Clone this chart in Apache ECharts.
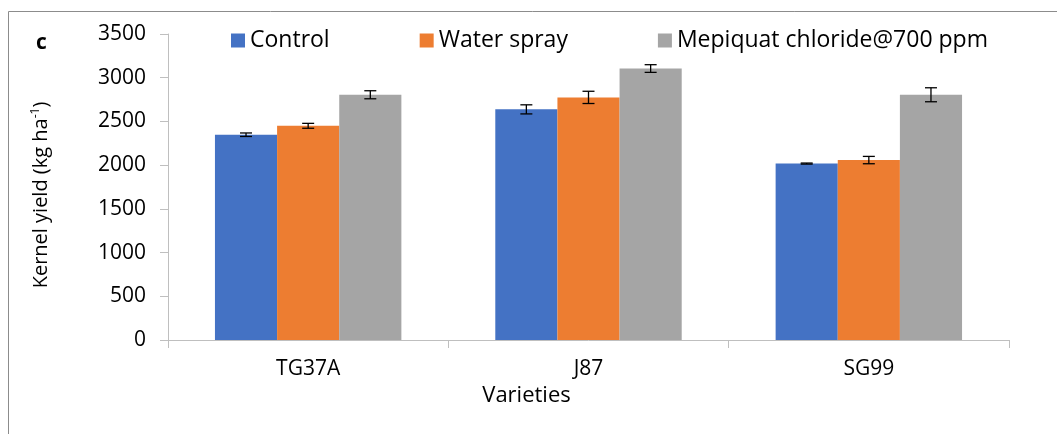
<!DOCTYPE html>
<html>
<head>
<meta charset="utf-8">
<script src="https://cdn.jsdelivr.net/npm/echarts@6/dist/echarts.min.js"></script>
<style>
  html, body { margin: 0; padding: 0; background: #fff; }
  #main { width: 1057px; height: 434px; }
</style>
</head>
<body>
<div id="main"></div>
<script>
var varieties = ['TG37A', 'J87', 'SG99'];
var seriesNames = ['Control', 'Water spray', 'Mepiquat chloride@700 ppm'];
var colors = ['#4472C4', '#ED7D31', '#A5A5A5'];

// kernel yield (kg/ha) per variety
var control = [2348, 2638, 2018];
var waterSpray = [2450, 2775, 2058];
var mepiquat = [2805, 3105, 2805];

// standard errors
var controlErr = [20, 52, 6];
var waterErr = [28, 70, 42];
var mepiquatErr = [46, 44, 80];

var values = [control, waterSpray, mepiquat];
var errors = [controlErr, waterErr, mepiquatErr];

var barGapRatio = 0.335;
var font = 'Open Sans';

var dom = document.getElementById('main');
var myChart = echarts.init(dom);

function errorRenderer(idx) {
    return function (params, api) {
        var x = api.value(0);
        var lo = api.coord([x, api.value(1)]);
        var hi = api.coord([x, api.value(2)]);
        var bandW = api.size([1, 0])[0];
        var barW = bandW * (1 - barGapRatio) / 3;
        var cx = lo[0] + (idx - 1) * barW;
        var cap = 6;
        var st = { stroke: '#000', lineWidth: 1.3 };
        return {
            type: 'group',
            children: [
                { type: 'line', shape: { x1: cx, y1: lo[1], x2: cx, y2: hi[1] }, style: st },
                { type: 'line', shape: { x1: cx - cap, y1: lo[1], x2: cx + cap, y2: lo[1] }, style: st },
                { type: 'line', shape: { x1: cx - cap, y1: hi[1], x2: cx + cap, y2: hi[1] }, style: st }
            ]
        };
    };
}

var series = [];
seriesNames.forEach(function (name, i) {
    series.push({
        name: name,
        type: 'bar',
        data: values[i],
        barGap: 0,
        barCategoryGap: (barGapRatio * 100) + '%',
        itemStyle: { color: colors[i] }
    });
});
seriesNames.forEach(function (name, i) {
    var errData = values[i].map(function (v, j) {
        return [j, v - errors[i][j], v + errors[i][j]];
    });
    series.push({
        type: 'custom',
        renderItem: errorRenderer(i),
        data: errData,
        z: 10,
        silent: true
    });
});

option = {
    animation: false,
    textStyle: { fontFamily: font },
    graphic: [
        { type: 'line', shape: { x1: 8.5, y1: 11.5, x2: 1057, y2: 11.5 }, style: { stroke: '#8c8c8c', lineWidth: 1 } },
        { type: 'line', shape: { x1: 8.5, y1: 11.5, x2: 8.5, y2: 434 }, style: { stroke: '#8c8c8c', lineWidth: 1 } },
        { type: 'text', left: 36, top: 33, style: { text: 'c', font: 'bold 21px "Open Sans"', fill: '#000' } }
    ],
    legend: {
        left: 226,
        top: 24,
        itemWidth: 14,
        itemHeight: 14,
        itemGap: 90,
        icon: 'rect',
        textStyle: { fontFamily: font, fontSize: 23, color: '#000' },
        data: seriesNames
    },
    grid: { left: 168, right: 48, top: 34, bottom: 94 },
    xAxis: {
        type: 'category',
        data: varieties,
        name: 'Varieties',
        nameLocation: 'middle',
        nameGap: 44,
        nameTextStyle: { fontFamily: font, fontSize: 22, color: '#000', padding: [0, 124, 0, 0] },
        axisLine: { lineStyle: { color: '#bfbfbf' } },
        axisTick: { show: true, length: 8, lineStyle: { color: '#bfbfbf' } },
        axisLabel: { margin: 19, fontSize: 21, color: '#000', fontFamily: font }
    },
    yAxis: {
        type: 'value',
        min: 0,
        max: 3500,
        interval: 500,
        name: '{n|Kernel yield (kg ha}{s|-1}{n|)}',
        nameLocation: 'middle',
        nameGap: 116,
        nameTextStyle: {
            color: '#000',
            padding: [0, 16, 0, 0],
            rich: {
                n: { fontFamily: font, fontSize: 20, color: '#000' },
                s: { fontFamily: font, fontSize: 12, color: '#000', padding: [0, 0, 10, 0] }
            }
        },
        axisLine: { show: true, lineStyle: { color: '#bfbfbf' } },
        axisTick: { show: true, length: 8, lineStyle: { color: '#bfbfbf' } },
        splitLine: { show: false },
        axisLabel: {
            margin: 22,
            fontSize: 21,
            color: '#000',
            fontFamily: font,
            formatter: function (v) { return String(v); }
        }
    },
    series: series
};

if (option && typeof option === 'object') {
    myChart.setOption(option, true);
}
</script>
</body>
</html>
